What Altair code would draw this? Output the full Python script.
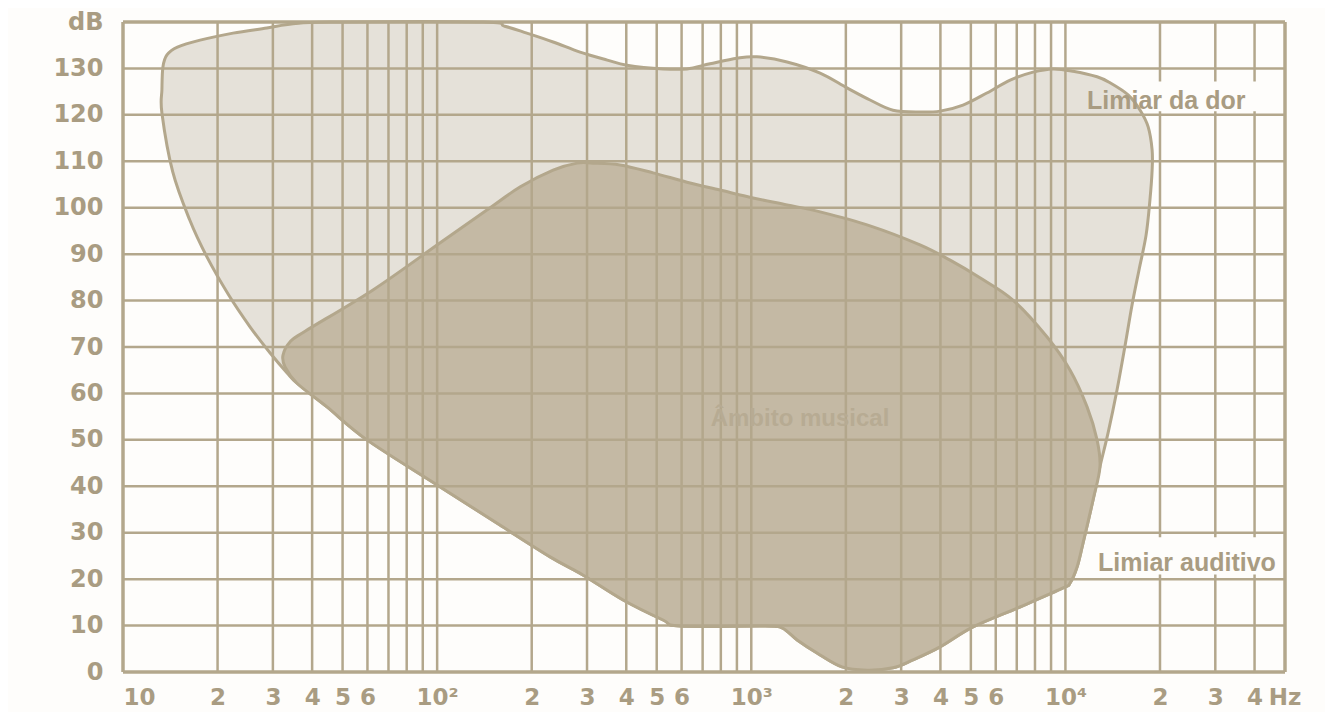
import json
import altair as alt
import pandas as pd

# ---- colours ----
BG = "#fefdfb"
LINE = "#b3a78c"
LIGHT = "#e5e1d9"
DARK = "#c4b9a4"
TEXT = "#a99c82"
AMBITO = "#b7ab93"

# ---- audible area (pain threshold above, hearing threshold below) ----
AUDIBLE_HZ = [13.3, 13.3, 13.4, 13.8, 14.9, 17.6, 22.4, 28.7, 34.8, 45.6, 140, 164, 193, 234, 285,
              348, 402, 524, 624, 739, 901, 1042, 1300, 1656, 2018, 2388, 2825, 3444, 3990, 4720,
              5620, 6670, 7890, 9140, 10570, 12610, 13870, 15830, 17290, 18340, 18880, 18880, 18580,
              18060, 17150, 16290, 15490, 14590, 13670, 12880, 12240, 11380, 10890, 10350, 9830,
              7160, 5080, 3990, 3270, 2825, 2334, 1944, 1619, 1400, 1253, 1107, 593, 524, 391, 291,
              229, 158, 100, 59.8, 44.6, 35.8, 33.3, 29.4, 25.4, 21.7, 18.5, 16.3, 14.4]
AUDIBLE_DB = [120.4, 125.4, 130.3, 132.9, 134.6, 136.1, 137.6, 138.7, 139.6, 140, 140, 139.1, 137.6,
              135.7, 133.5, 131.8, 130.7, 129.9, 129.9, 131.0, 132.2, 132.5, 131.4, 129.0, 125.8,
              123.2, 121.0, 120.6, 120.8, 122.1, 124.7, 127.5, 129.2, 129.9, 129.4, 128.2, 126.9,
              124.3, 121.0, 117.4, 112.4, 108.1, 101.7, 94.1, 86.6, 79.0, 70.4, 60.7, 51.5, 44.2,
              37.0, 27.8, 22.6, 19.2, 18.1, 14.0, 9.7, 5.4, 2.6, 0.9, 0.4, 1.1, 4.1, 6.9, 9.5, 9.9,
              9.9, 11.2, 15.5, 20.9, 24.8, 31.7, 40.3, 50.0, 57.1, 62.2, 64.4, 68.7, 74.3, 81.2,
              89.4, 97.4, 107.7]

# ---- musical range ----
MUSIC_HZ = [32.3, 34.0, 38.0, 62.5, 102, 144, 184, 234, 279, 313, 382, 487, 624, 795, 1013, 1300,
            1656, 2388, 3444, 4295, 5346, 6808, 8730, 10350, 11720, 12610, 12880, 12240, 11380,
            10890, 10350, 9830, 7160, 5080, 3990, 3270, 2825, 2334, 1944, 1619, 1400, 1253, 1107,
            593, 524, 391, 291, 229, 158, 100, 59.8, 44.6, 35.8, 32.8]
MUSIC_DB = [68.2, 71.1, 73.4, 82.3, 92.4, 99.5, 104.5, 108.1, 109.6, 109.6, 109.2, 107.5, 105.5,
            103.8, 102.1, 100.6, 99.1, 96.1, 92.0, 88.7, 84.9, 80.1, 72.2, 65.0, 57.1, 50.0, 44.2,
            37.0, 27.8, 22.6, 19.2, 18.1, 14.0, 9.7, 5.4, 2.6, 0.9, 0.4, 1.1, 4.1, 6.9, 9.5, 9.9,
            9.9, 11.2, 15.5, 20.9, 24.8, 31.7, 40.3, 50.0, 57.1, 62.2, 65.7]

# ---- grid / ticks ----
X_GRID = [20, 30, 40, 50, 60, 70, 80, 90,
          100, 200, 300, 400, 500, 600, 700, 800, 900,
          1000, 2000, 3000, 4000, 5000, 6000, 7000, 8000, 9000,
          10000, 20000, 30000, 40000]
X_FRAME = [10, 50000]
Y_GRID = [10, 20, 30, 40, 50, 60, 70, 80, 90, 100, 110, 120, 130]
Y_FRAME = [0, 140]
X_TICK_VALUES = [10, 20, 30, 40, 50, 60, 100, 200, 300, 400, 500, 600,
                 1000, 2000, 3000, 4000, 5000, 6000, 10000, 20000, 30000, 40000]
X_TICK_LABELS = ["10", "2", "3", "4", "5", "6", "10²", "2", "3", "4", "5", "6",
                 "10³", "2", "3", "4", "5", "6", "10⁴", "2", "3", "4"]
Y_TICK_VALUES = [0, 10, 20, 30, 40, 50, 60, 70, 80, 90, 100, 110, 120, 130, 140]
Y_TICK_LABELS = ["0", "10", "20", "30", "40", "50", "60", "70", "80", "90", "100",
                 "110", "120", "130", "dB"]

# ---- annotations ----
ANNOT_TEXT = ["Limiar da dor", "Limiar auditivo"]
ANNOT_HZ = [11720, 12700]
ANNOT_DB = [123.0, 23.5]
MUSIC_LABEL = ["Âmbito musical"]
MUSIC_LABEL_HZ = [1429]
MUSIC_LABEL_DB = [54.5]
UNIT_TEXT = ["Hz"]
UNIT_HZ = [50000]
UNIT_DB = [-5.6]
BOX_HZ = [18700, 12000]
BOX_HZ2 = [46000, 46000]
BOX_DB = [120.8, 21.0]
BOX_DB2 = [127.2, 29.0]

x_map = {str(v): l for v, l in zip(X_TICK_VALUES, X_TICK_LABELS)}
y_map = {str(v): l for v, l in zip(Y_TICK_VALUES, Y_TICK_LABELS)}
x_expr = "(" + json.dumps(x_map, ensure_ascii=False) + ")[toString(datum.value)] || ''"
y_expr = "(" + json.dumps(y_map, ensure_ascii=False) + ")[toString(datum.value)] || ''"

xscale = alt.Scale(type="log", domain=[10, 50000])
yscale = alt.Scale(domain=[0, 140])
xaxis = alt.Axis(values=X_TICK_VALUES + [50000], labelExpr=x_expr, grid=False, domain=False,
                 ticks=False, tickSize=0, labelPadding=14, labelFontSize=23, labelOverlap=False,
                 labelFlush=True, title=None, labelFont="DejaVu Sans", labelFontWeight="bold",
                 labelColor=TEXT)
yaxis = alt.Axis(values=Y_TICK_VALUES, labelExpr=y_expr, grid=False, domain=False, ticks=False,
                 tickSize=0, labelPadding=20, labelFontSize=24, labelOverlap=False, title=None,
                 labelFont="DejaVu Sans", labelFontWeight="bold", labelColor=TEXT)

X = alt.X("hz:Q", scale=xscale, axis=xaxis)
Y = alt.Y("db:Q", scale=yscale, axis=yaxis)

df_aud = pd.DataFrame({"hz": AUDIBLE_HZ, "db": AUDIBLE_DB, "i": range(len(AUDIBLE_HZ))})
df_mus = pd.DataFrame({"hz": MUSIC_HZ, "db": MUSIC_DB, "i": range(len(MUSIC_HZ))})

audible = alt.Chart(df_aud).mark_line(
    interpolate="cardinal-closed", fill=LIGHT, stroke=LINE, strokeWidth=3
).encode(x=X, y=Y, order="i:Q")

music = alt.Chart(df_mus).mark_line(
    interpolate="cardinal-closed", fill=DARK, stroke=LINE, strokeWidth=3
).encode(x=X, y=Y, order="i:Q")

vgrid = alt.Chart(pd.DataFrame({"hz": X_GRID})).mark_rule(color=LINE, strokeWidth=2.5).encode(x=X)
hgrid = alt.Chart(pd.DataFrame({"db": Y_GRID})).mark_rule(color=LINE, strokeWidth=2.5).encode(y=Y)
vframe = alt.Chart(pd.DataFrame({"hz": X_FRAME})).mark_rule(color=LINE, strokeWidth=3.5).encode(x=X)
hframe = alt.Chart(pd.DataFrame({"db": Y_FRAME})).mark_rule(color=LINE, strokeWidth=3.5).encode(y=Y)

boxes = alt.Chart(pd.DataFrame({"hz": BOX_HZ, "hz2": BOX_HZ2, "db": BOX_DB, "db2": BOX_DB2})).mark_rect(
    fill=BG
).encode(x=X, x2="hz2:Q", y=Y, y2="db2:Q")

annots = alt.Chart(pd.DataFrame({"hz": ANNOT_HZ, "db": ANNOT_DB, "t": ANNOT_TEXT})).mark_text(
    align="left", baseline="middle", font="Liberation Sans", fontWeight="bold", fontSize=25,
    color=TEXT
).encode(x=X, y=Y, text="t:N")

music_label = alt.Chart(pd.DataFrame({"hz": MUSIC_LABEL_HZ, "db": MUSIC_LABEL_DB, "t": MUSIC_LABEL})).mark_text(
    align="center", baseline="middle", font="Liberation Sans", fontWeight="bold", fontSize=24,
    color=AMBITO
).encode(x=X, y=Y, text="t:N")

unit = alt.Chart(pd.DataFrame({"hz": UNIT_HZ, "db": UNIT_DB, "t": UNIT_TEXT})).mark_text(
    align="center", baseline="middle", font="DejaVu Sans", fontWeight="bold", fontSize=23,
    color=TEXT
).encode(x=X, y=Y, text="t:N")

chart = alt.layer(
    audible, music, vgrid, hgrid, vframe, hframe, boxes, annots, music_label, unit
).properties(
    width=1162, height=650, background=BG,
    padding={"left": 115, "top": 14, "right": 40, "bottom": 40},
    autosize=alt.AutoSizeParams(type="none"),
).configure_view(stroke=None)

chart.save("out.html", embed_options={"renderer": "svg", "actions": False})
